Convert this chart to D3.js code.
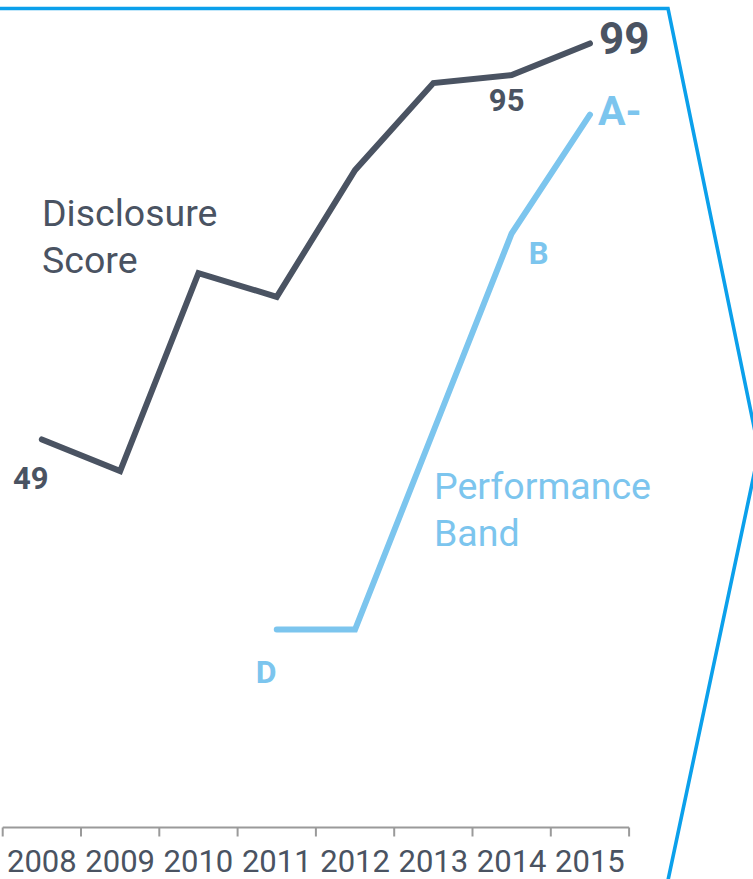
<!DOCTYPE html>
<html>
<head>
<meta charset="utf-8">
<script src="https://cdn.jsdelivr.net/npm/d3@7"></script>
<style>
  html, body { margin: 0; padding: 0; background: #fff; }
  svg { display: block; }
  text { font-family: Roboto, "Noto Sans", sans-serif; }
</style>
</head>
<body>
<svg id="chart" width="753" height="879"></svg>
<script>
// ---- data ----
const years = ["2008", "2009", "2010", "2011", "2012", "2013", "2014", "2015"];
const disclosureScore = [49, 45, 70, 67, 83, 94, 95, 99];
// performance band mapped to the same vertical scale (D=25, C=50, B=75, A-=90)
const performanceValue = [null, null, null, 25, 25, 50, 75, 90];
const performanceBand = [null, null, null, "D", "D", "C", "B", "A-"];
// which points carry a label
const disclosureLabelYears = ["2008", "2014", "2015"];
const bandLabelYears = ["2011", "2014", "2015"];

const dark = "#4a5362";
const light = "#7cc5ee";
const frameBlue = "#0ba0eb";

const svg = d3.select("#chart");

const x = d3.scaleBand().domain(years).range([2.7, 629.1]).padding(0);
const y = d3.scaleLinear().domain([0, 100]).range([827.5, 35.5]);
const cx = d => x(d) + x.bandwidth() / 2;

// ---- frame ----
svg.append("path")
  .attr("d", "M-5,8.5 L668,8.5 L759,451 L667,885")
  .attr("fill", "none")
  .attr("stroke", frameBlue)
  .attr("stroke-width", 3.6)
  .attr("stroke-linejoin", "miter");

// ---- axis ----
const axisG = svg.append("g").attr("transform", `translate(0,${y(0)})`);
axisG.append("line")
  .attr("x1", x.range()[0]).attr("x2", x.range()[1])
  .attr("stroke", "#9a9a9a").attr("stroke-width", 2);
const edges = years.map(d => x(d)).concat([x.range()[1]]);
axisG.selectAll("line.tick").data(edges).join("line")
  .attr("class", "tick")
  .attr("x1", d => d).attr("x2", d => d)
  .attr("y1", 0).attr("y2", 9)
  .attr("stroke", "#9a9a9a").attr("stroke-width", 2);

const xAxis = d3.axisBottom(x).tickSize(0).tickPadding(0);
const ax = svg.append("g").attr("transform", `translate(0,${y(0)})`).call(xAxis);
ax.select(".domain").remove();
ax.selectAll("text")
  .attr("dy", 0).attr("y", 44)
  .attr("fill", dark)
  .style("font-size", "31px")
  .style("font-family", "Roboto, sans-serif");

// ---- lines ----
const line = d3.line()
  .defined(d => d.v != null)
  .x(d => cx(d.year))
  .y(d => y(d.v));

const discData = years.map((yr, i) => ({ year: yr, v: disclosureScore[i] }));
const perfData = years.map((yr, i) => ({ year: yr, v: performanceValue[i], band: performanceBand[i] }));

svg.append("path").datum(perfData)
  .attr("d", line)
  .attr("fill", "none")
  .attr("stroke", light)
  .attr("stroke-width", 6)
  .attr("stroke-linecap", "round")
  .attr("stroke-linejoin", "miter");

svg.append("path").datum(discData)
  .attr("d", line)
  .attr("fill", "none")
  .attr("stroke", dark)
  .attr("stroke-width", 6)
  .attr("stroke-linecap", "round")
  .attr("stroke-linejoin", "miter");

// ---- point labels ----
const discLabelStyle = {
  "2008": { dx: -11, dy: 50, anchor: "middle", size: 31 },
  "2014": { dx: -5, dy: 35.5, anchor: "middle", size: 31 },
  "2015": { dx: 9, dy: 11, anchor: "start", size: 44 }
};
discData.filter(d => disclosureLabelYears.includes(d.year)).forEach(d => {
  const s = discLabelStyle[d.year];
  svg.append("text")
    .attr("x", cx(d.year) + s.dx)
    .attr("y", y(d.v) + s.dy)
    .attr("text-anchor", s.anchor)
    .attr("fill", dark)
    .style("font-weight", 700)
    .style("font-size", s.size + "px")
    .text(d.v);
});

const bandLabelStyle = {
  "2011": { dx: -21, dy: 53, size: 32 },
  "2014": { dx: 17, dy: 30, size: 31 },
  "2015": { dx: 8, dy: 10, size: 41 }
};
perfData.filter(d => bandLabelYears.includes(d.year)).forEach(d => {
  const s = bandLabelStyle[d.year];
  svg.append("text")
    .attr("x", cx(d.year) + s.dx)
    .attr("y", y(d.v) + s.dy)
    .attr("fill", light)
    .style("font-weight", 700)
    .style("font-size", s.size + "px")
    .text(d.band);
});

// ---- series titles ----
const titles = [
  { lines: ["Disclosure", "Score"], x: 42, y: 226, color: dark },
  { lines: ["Performance", "Band"], x: 434, y: 499, color: light }
];
titles.forEach(t => {
  const txt = svg.append("text")
    .attr("x", t.x).attr("y", t.y)
    .attr("fill", t.color)
    .style("font-size", "37.5px");
  t.lines.forEach((l, i) => {
    txt.append("tspan").attr("x", t.x).attr("dy", i === 0 ? 0 : 47).text(l);
  });
});
</script>
</body>
</html>
